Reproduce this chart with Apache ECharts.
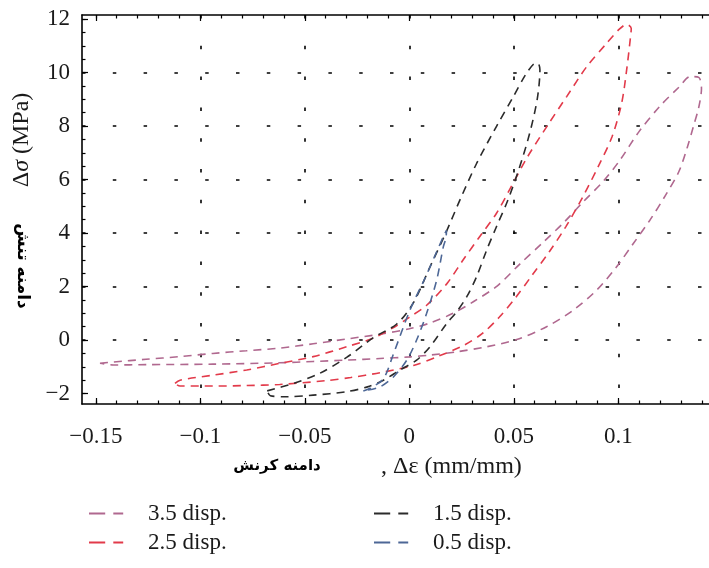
<!DOCTYPE html>
<html>
<head>
<meta charset="utf-8">
<script src="https://cdn.jsdelivr.net/npm/echarts@6/dist/echarts.min.js"></script>
<style>
  html, body { margin: 0; padding: 0; background: #ffffff; }
  #chart { width: 709px; height: 568px; }
</style>
</head>
<body>
<div id="chart"></div>
<script>
// Hysteresis loops: stress amplitude vs strain amplitude, one loop per displacement level
const seriesNames = ['3.5 disp.', '2.5 disp.', '1.5 disp.', '0.5 disp.'];

const disp35 = [
  [-0.148, -0.87], [-0.1416, -0.82], [-0.126, -0.72], [-0.110, -0.62], [-0.094, -0.50],
  [-0.078, -0.40], [-0.062, -0.30], [-0.046, -0.14], [-0.030, 0.04], [-0.014, 0.22],
  [0.000, 0.42], [0.010, 0.64], [0.021, 1.00], [0.031, 1.45], [0.042, 2.02],
  [0.053, 2.85], [0.064, 3.65], [0.074, 4.40], [0.083, 5.15], [0.093, 5.95],
  [0.101, 6.75], [0.110, 7.80], [0.120, 8.75], [0.129, 9.45], [0.1345, 9.85],
  [0.1385, 9.82], [0.1398, 9.40], [0.1385, 8.70], [0.1360, 8.00], [0.1330, 7.20],
  [0.1290, 6.30], [0.1225, 5.40], [0.1152, 4.49], [0.1072, 3.61], [0.0992, 2.74],
  [0.0897, 1.87], [0.0785, 1.12], [0.0657, 0.50], [0.0514, 0.02], [0.0370, -0.25],
  [0.0227, -0.44], [0.0099, -0.56], [0.000, -0.63], [-0.014, -0.69], [-0.030, -0.75],
  [-0.046, -0.80], [-0.062, -0.85], [-0.094, -0.90], [-0.126, -0.92], [-0.1416, -0.93],
  [-0.148, -0.87]
];

const disp25 = [
  [-0.1121, -1.62], [-0.1097, -1.50], [-0.0938, -1.31], [-0.0778, -1.12], [-0.062, -0.87],
  [-0.046, -0.62], [-0.030, -0.25], [-0.018, 0.05], [-0.008, 0.45], [0.000, 0.85],
  [0.0083, 1.30], [0.0179, 2.10], [0.0258, 3.00], [0.034, 3.90], [0.0418, 4.75],
  [0.0482, 5.65], [0.0562, 6.80], [0.0657, 7.97], [0.0753, 9.10], [0.0849, 10.22],
  [0.0944, 11.09], [0.1005, 11.62], [0.1040, 11.80], [0.1062, 11.65], [0.1058, 11.30],
  [0.1040, 10.10], [0.1016, 8.85], [0.0970, 7.60], [0.0905, 6.50], [0.0830, 5.35],
  [0.0750, 4.25], [0.0670, 3.30], [0.0590, 2.45], [0.0510, 1.60], [0.0430, 0.85],
  [0.0350, 0.25], [0.0260, -0.20], [0.0140, -0.60], [0.0020, -0.95], [-0.0140, -1.22],
  [-0.0280, -1.40], [-0.0400, -1.52], [-0.0620, -1.66], [-0.0780, -1.70], [-0.0940, -1.72],
  [-0.1097, -1.72], [-0.1121, -1.62]
];

const disp15 = [
  [-0.068, -1.90], [-0.0555, -1.62], [-0.043, -1.25], [-0.030, -0.65], [-0.017, 0.10],
  [-0.006, 0.60], [0.002, 1.40], [0.010, 2.75], [0.018, 4.10], [0.0243, 5.25],
  [0.0322, 6.60], [0.0418, 8.00], [0.0498, 9.10], [0.0555, 9.90], [0.0593, 10.30],
  [0.0615, 10.35], [0.0625, 10.10], [0.0612, 9.00], [0.0575, 7.70], [0.0525, 6.40],
  [0.0470, 5.20], [0.0415, 4.20], [0.0370, 3.36], [0.0322, 2.37], [0.0275, 1.62],
  [0.0227, 1.06], [0.0179, 0.62], [0.0099, -0.25], [0.0035, -0.75], [-0.0045, -1.12],
  [-0.0124, -1.50], [-0.0200, -1.75], [-0.0300, -1.93], [-0.0460, -2.06], [-0.0587, -2.12],
  [-0.0665, -2.08], [-0.068, -1.90]
];

const disp05 = [
  [-0.022, -1.90], [-0.0188, -1.80], [-0.0124, -1.45], [-0.0075, -0.50], [0.0003, 1.12],
  [0.0075, 2.31], [0.0131, 3.30], [0.0165, 3.90], [0.0178, 4.10], [0.0175, 3.80],
  [0.0163, 3.49], [0.0131, 2.24], [0.0083, 1.00], [0.0035, 0.00], [-0.0012, -0.75],
  [-0.0075, -1.37], [-0.0140, -1.75], [-0.022, -1.90]
];

const xTickLabels = [-0.15, -0.1, -0.05, 0, 0.05, 0.1];
const yTickLabels = [-2, 0, 2, 4, 6, 8, 10, 12];
const xGridValues = [-0.1, -0.05, 0, 0.05, 0.1];
const yGridValues = [0, 2, 4, 6, 8, 10];

const X_MIN = -0.1566, X_MAX = 0.1434;
const Y_MIN = -2.39, Y_MAX = 12.15;

const lineColors = ['#b0688f', '#e23a4a', '#2b2b2b', '#4d6796'];

// minor tick positions (every 0.01 on x, every 0.5 on y)
const xMinor = [];
for (let i = -15; i <= 14; i++) xMinor.push(i / 100);
const yMinor = [];
for (let i = -4; i <= 24; i++) yMinor.push(i / 2);

const serif = '"Liberation Serif", "DejaVu Serif", serif';
const arabicFont = '"DejaVu Sans", sans-serif';

function fmt(v) {
  return String(+v.toFixed(2)).replace('-', '\u2212');
}

const dotted = { color: '#000', width: 1.6, type: [3.5, 27.3] };

function xAxisDef(pos, opts) {
  return {
    type: 'value', min: X_MIN, max: X_MAX, position: pos, gridIndex: 0,
    axisLine: { show: !!opts.line, onZero: false, lineStyle: { color: '#000', width: 1.6 } },
    axisTick: {
      show: !!opts.tickLen, inside: true, length: opts.tickLen || 0,
      customValues: opts.ticks, lineStyle: { color: '#000', width: 1.2 }
    },
    axisLabel: opts.labels ? {
      show: true, customValues: opts.labels, formatter: fmt, margin: 21,
      color: '#1a1a1a', fontFamily: serif, fontSize: 23
    } : { show: false },
    splitLine: opts.grid ? { show: true, lineStyle: dotted } : { show: false }
  };
}

function yAxisDef(opts) {
  return {
    type: 'value', min: Y_MIN, max: Y_MAX, position: 'left', gridIndex: 0,
    axisLine: { show: !!opts.line, onZero: false, lineStyle: { color: '#000', width: 1.6 } },
    axisTick: {
      show: !!opts.tickLen, inside: true, length: opts.tickLen || 0,
      customValues: opts.ticks, lineStyle: { color: '#000', width: 1.2 }
    },
    axisLabel: opts.labels ? {
      show: true, customValues: opts.labels, formatter: fmt, margin: 12,
      color: '#1a1a1a', fontFamily: serif, fontSize: 23
    } : { show: false },
    splitLine: opts.grid ? { show: true, lineStyle: dotted } : { show: false }
  };
}

const loops = [disp35, disp25, disp15, disp05];

// legend key: a long dash followed by a short one
const legendKey = 'path://M0 0H18V2H0ZM27 0H38V2H27Z';

function legendDef(left, names) {
  return {
    left: left, top: 497, orient: 'vertical', itemGap: 6,
    icon: legendKey, itemWidth: 38, itemHeight: 1.8,
    data: names,
    textStyle: { fontFamily: serif, fontSize: 23, color: '#1a1a1a', padding: [0, 0, 0, 18] }
  };
}

const option = {
  animation: false,
  backgroundColor: '#ffffff',
  grid: { left: 82, right: 0, top: 15, bottom: 164, containLabel: false },
  xAxis: [
    xAxisDef('bottom', { line: true, tickLen: 6, ticks: xTickLabels, labels: xTickLabels }),
    xAxisDef('bottom', { tickLen: 3.5, ticks: xMinor }),
    xAxisDef('top', { line: true, tickLen: 6, ticks: xTickLabels }),
    xAxisDef('top', { tickLen: 3.5, ticks: xMinor }),
    xAxisDef('bottom', { ticks: xGridValues, grid: true })
  ],
  yAxis: [
    yAxisDef({ line: true, tickLen: 6, ticks: yTickLabels, labels: yTickLabels }),
    yAxisDef({ tickLen: 3.5, ticks: yMinor }),
    yAxisDef({ ticks: yGridValues, grid: true })
  ],
  legend: [
    legendDef(84, [seriesNames[0], seriesNames[1]]),
    legendDef(369, [seriesNames[2], seriesNames[3]])
  ],
  graphic: [
    {
      type: 'text', x: 22, y: 140, rotation: Math.PI / 2,
      style: {
        text: '\u0394{i|\u03c3} (MPa)', align: 'center', verticalAlign: 'middle',
        fontFamily: serif, fontSize: 24, fill: '#1a1a1a',
        rich: { i: { fontStyle: 'italic', fontFamily: serif, fontSize: 24, fill: '#1a1a1a' } }
      }
    },
    {
      type: 'text', x: 22, y: 266, rotation: -Math.PI / 2,
      style: {
        text: 'دامنه تنش', align: 'center', verticalAlign: 'middle',
        fontFamily: arabicFont, fontWeight: 'bold', fontSize: 17, fill: '#000'
      }
    },
    {
      type: 'text', x: 277, y: 466,
      style: {
        text: 'دامنه کرنش', align: 'center', verticalAlign: 'middle',
        fontFamily: arabicFont, fontWeight: 'bold', fontSize: 15, fill: '#000'
      }
    },
    {
      type: 'text', x: 381, y: 467,
      style: {
        text: ', \u0394\u03b5 (mm/mm)', align: 'left', verticalAlign: 'middle',
        fontFamily: serif, fontSize: 24, fill: '#1a1a1a'
      }
    }
  ],
  series: loops.map((d, i) => ({
    name: seriesNames[i],
    type: 'line',
    xAxisIndex: 0,
    yAxisIndex: 0,
    data: d,
    showSymbol: false,
    symbol: 'none',
    smooth: 0.3,
    clip: true,
    lineStyle: { color: lineColors[i], width: 1.6, type: [8, 6] },
    itemStyle: { color: lineColors[i] }
  }))
};

const chart = echarts.init(document.getElementById('chart'), null, { renderer: 'canvas' });
chart.setOption(option);
</script>
</body>
</html>
